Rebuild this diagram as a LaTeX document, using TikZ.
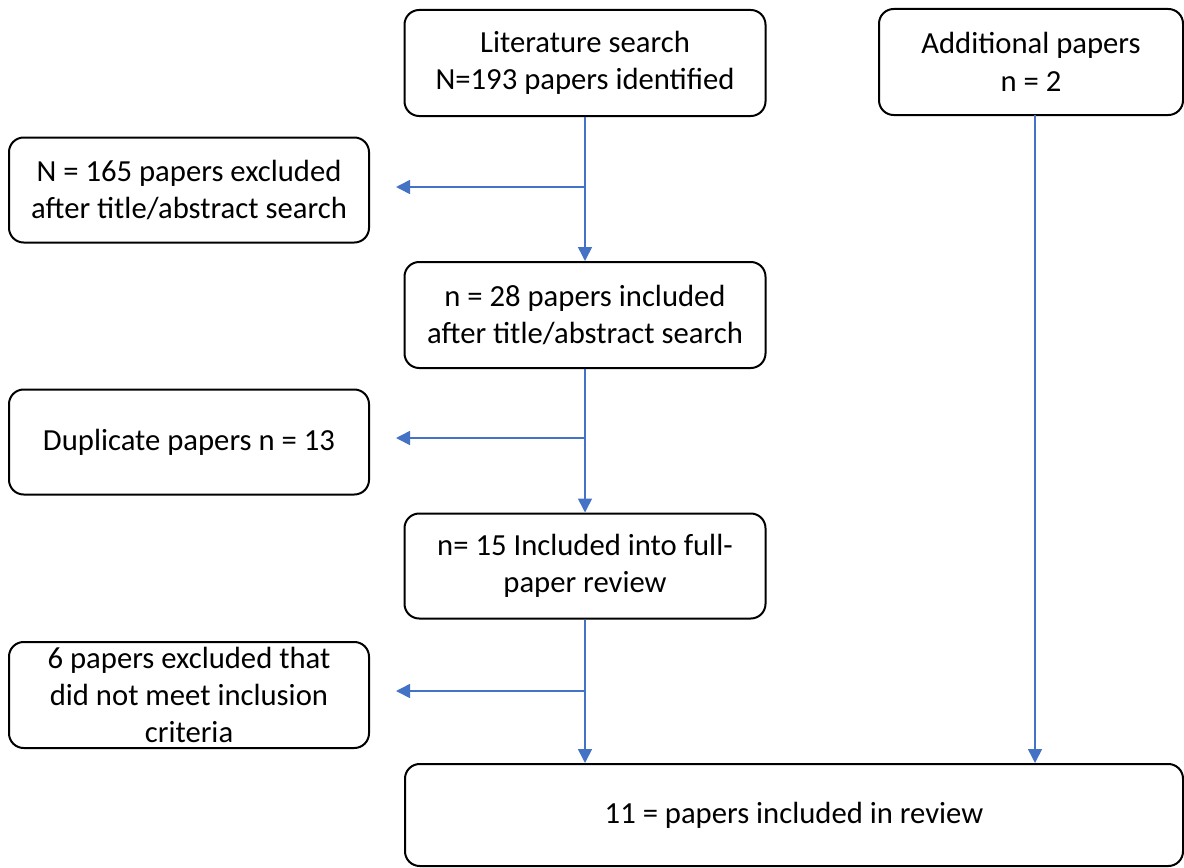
\documentclass[tikz,border=0pt]{standalone}
\usepackage{fontspec}
\setmainfont{Carlito}
\usetikzlibrary{arrows.meta}
\begin{document}
\begin{tikzpicture}[x=0.75pt,y=-0.75pt,
  box/.style={draw=black, line width=1.5pt, rounded corners=11pt, align=center,
    font=\fontsize{23}{28}\selectfont, inner sep=0pt,
    minimum width=270.75pt, minimum height=79.5pt},
  flow/.style={draw={rgb,255:red,68;green,114;blue,196}, line width=1.2pt,
    -{Triangle[length=10.5pt,width=10.5pt]}},
  side/.style={flow, shorten >=19.5pt}]
\useasboundingbox (0,0) rectangle (1184,867);

% main column
\node[box] (lit) at (585,63) {Literature search\\N=193 papers identified};
\node[box] (n28) at (585,315) {n = 28 papers included\\after title/abstract search};
\node[box, minimum height=78.75pt] (n15) at (585,566) {n= 15 Included into full-\\paper review};

% right column
\node[box, minimum width=228pt] (add) at (1031,62) {Additional papers\\n = 2};

% exclusions on the left
\node[box, minimum width=270pt, minimum height=78.75pt] (ex1) at (189,190) {N = 165 papers excluded\\after title/abstract search};
\node[box, minimum width=270pt, minimum height=78.75pt] (dup) at (189,442) {Duplicate papers n = 13};
\node[box, minimum width=270pt] (ex3) at (189,695) {6 papers excluded that\\did not meet inclusion\\criteria};

% final box
\node[box, minimum width=583.5pt, minimum height=76.5pt] (fin) at (794,815) {11 = papers included in review};

% junctions on the main line
\coordinate (j1) at (585,187);
\coordinate (j2) at (585,438);
\coordinate (j3) at (585,691);

% vertical flow
\draw[flow] (lit.south) -- (n28.north);
\draw[flow] (n28.south) -- (n15.north);
\draw[flow] (n15.south) -- (n15.south |- fin.north);
\draw[flow] (1035,115) -- (1035,763);

% side branches
\draw[side] (j1) -- (ex1.east |- j1);
\draw[side] (j2) -- (dup.east |- j2);
\draw[side] (j3) -- (ex3.east |- j3);
\end{tikzpicture}
\end{document}
